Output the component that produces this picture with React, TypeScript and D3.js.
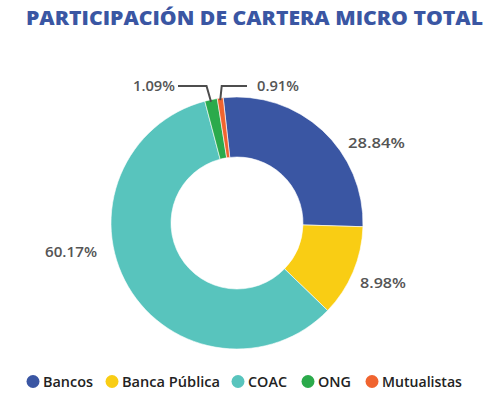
import React from "react";
import * as d3 from "d3";

const categories = ["Bancos", "Banca Pública", "COAC", "ONG", "Mutualistas"];
// slice shares as drawn in the picture (percent)
const shares = [27.22, 11.75, 58.67, 1.61, 0.75];
const valueLabels = ["28.84%", "8.98%", "60.17%", "1.09%", "0.91%"];
const colors = ["#3A56A3", "#F9CD14", "#58C4BD", "#2BAA4B", "#F0642F"];

const W = 496;
const H = 393;
const cx = 237;
const cy = 223;
const outerR = 126;
const innerR = 66;
const startDeg = -6.3;

// label placement relative to donut center: [x, baseline y, anchor, width]
const labelPlace: [number, number, string, number][] = [
  [111, -75, "start", 57],
  [123, 65, "start", 46],
  [-192, 34, "start", 52],
  [-104, -132, "start", 42],
  [20, -132, "start", 42],
];

const legendX = [33, 112, 238, 308, 372];
const legendW = [50, 98, 39, 33, 80];

export default function App() {
  const pie = d3
    .pie<number>()
    .sort(null)
    .value((d) => d)
    .startAngle((startDeg * Math.PI) / 180)
    .endAngle((startDeg * Math.PI) / 180 + 2 * Math.PI);
  const arcs = pie(shares);
  const arc = d3.arc<d3.PieArcDatum<number>>().innerRadius(innerR).outerRadius(outerR);

  const leader = (i: number, elbowDx: number, endX: number) => {
    const a = arcs[i];
    const mid = (a.startAngle + a.endAngle) / 2;
    const x0 = cx + outerR * Math.sin(mid);
    const y0 = cy - outerR * Math.cos(mid) + 2;
    const yE = 86;
    return `M${x0},${y0} L${x0 + elbowDx},${yE} L${endX},${yE}`;
  };

  return (
    <svg
      width={W}
      height={H}
      style={{ position: "absolute", left: 0, top: 0, display: "block", background: "#fff" }}
      fontFamily="'Open Sans', 'DejaVu Sans', sans-serif"
    >
      <text
        x={26}
        y={25}
        fontSize={20}
        fontWeight={800}
        fill="#3A56A3"
        textLength={457}
        lengthAdjust="spacingAndGlyphs"
      >
        PARTICIPACIÓN DE CARTERA MICRO TOTAL
      </text>
      <g transform={`translate(${cx},${cy})`}>
        {arcs.map((a, i) => (
          <path key={i} d={arc(a) || ""} fill={colors[i]} stroke="#fff" strokeWidth={0.6} />
        ))}
      </g>
      <path d={leader(3, -4.5, 178)} fill="none" stroke="#4d4d4d" strokeWidth={2} />
      <path d={leader(4, 1.5, 247)} fill="none" stroke="#4d4d4d" strokeWidth={2} />
      {valueLabels.map((t, i) => (
        <text
          key={i}
          x={cx + labelPlace[i][0]}
          y={cy + labelPlace[i][1]}
          fontSize={14}
          fontWeight={600}
          fill="#555"
          textAnchor={labelPlace[i][2]}
          textLength={labelPlace[i][3]}
          lengthAdjust="spacingAndGlyphs"
        >
          {t}
        </text>
      ))}
      {categories.map((c, i) => (
        <g key={c}>
          <circle cx={legendX[i]} cy={381.5} r={6.5} fill={colors[i]} />
          <text
            x={legendX[i] + 10}
            y={386.5}
            fontSize={14}
            fontWeight={600}
            fill="#222"
            textLength={legendW[i]}
            lengthAdjust="spacingAndGlyphs"
          >
            {c}
          </text>
        </g>
      ))}
    </svg>
  );
}
